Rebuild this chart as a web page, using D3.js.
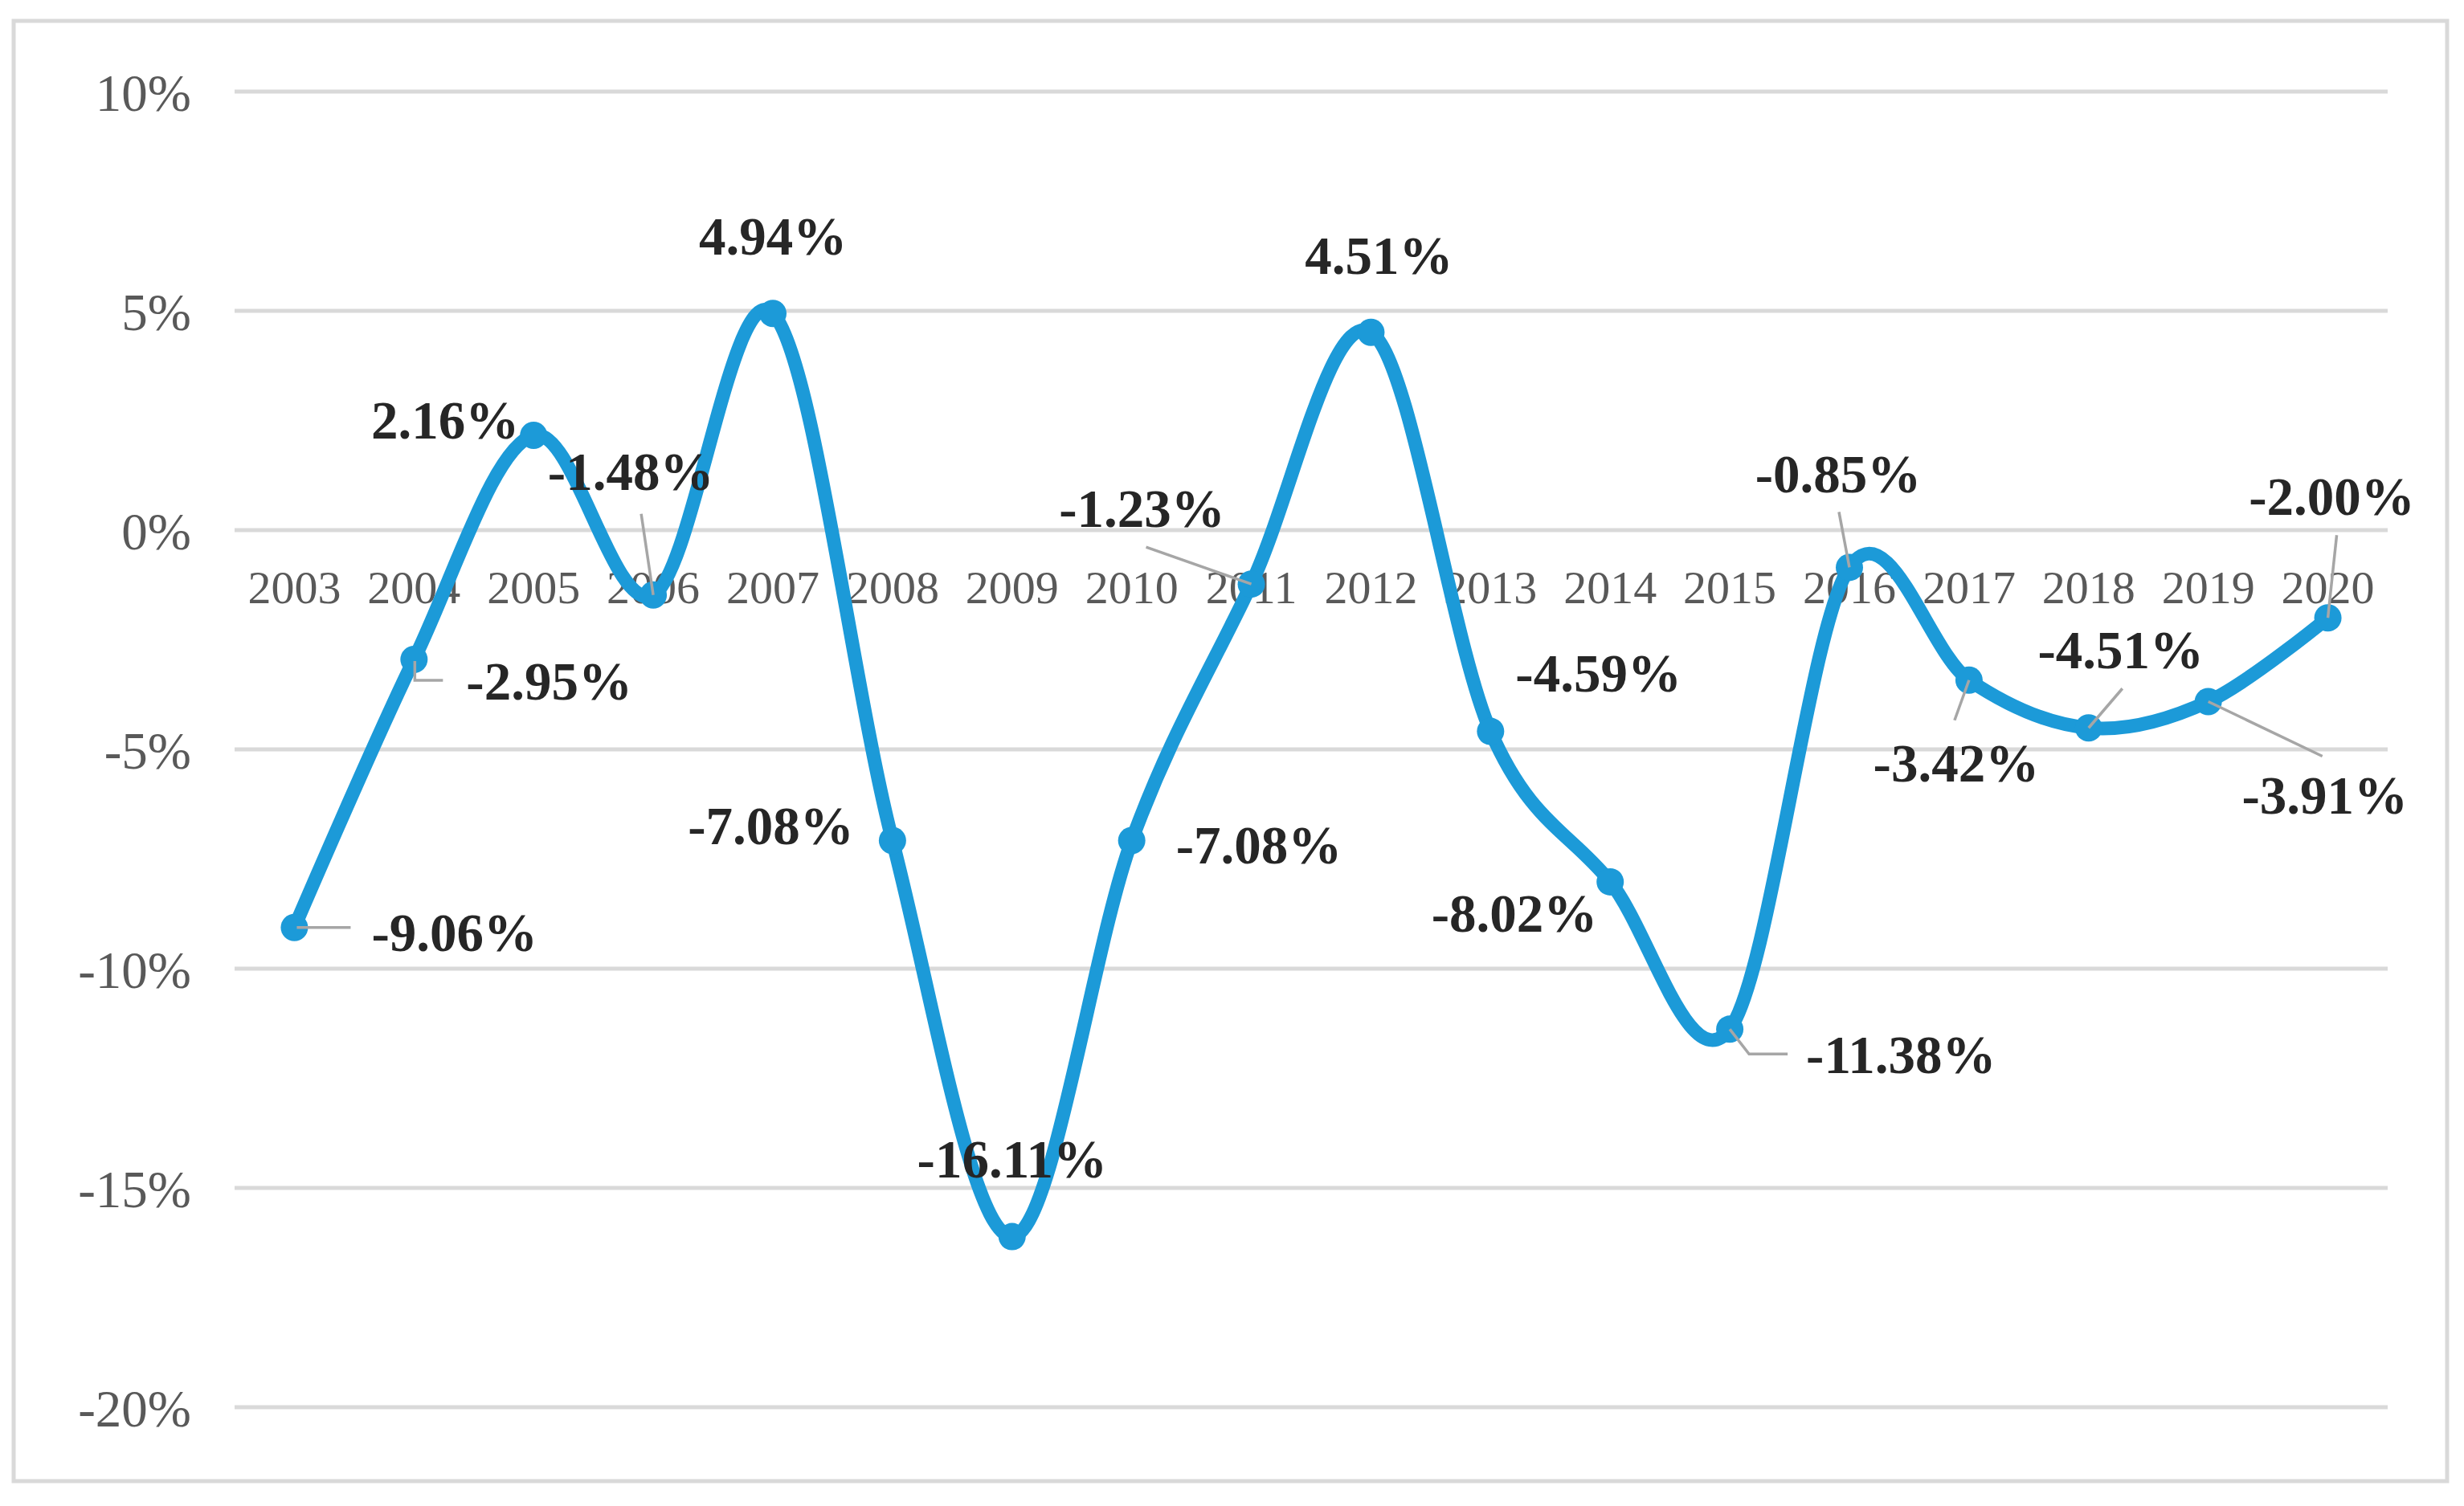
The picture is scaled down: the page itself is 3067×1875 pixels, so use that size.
<!DOCTYPE html>
<html lang="en">
<head>
<meta charset="utf-8">
<title>growth-rate-chart</title>
<script src="https://cdn.jsdelivr.net/npm/d3@7"></script>
<style>
    html, body {
        margin: 0;
        padding: 0;
        background: #ffffff;
    }
    svg {
        display: block;
    }
    .tick-label {
        font-family: "Liberation Serif", "Times New Roman", serif;
        fill: #595959;
    }
    .data-label {
        font-family: "Liberation Serif", "Times New Roman", serif;
        font-weight: bold;
        fill: #262626;
    }
</style>
</head>
<body>
<svg id="canvas" width="3067" height="1875"></svg>
<script>
    // data
    const years = ["2003", "2004", "2005", "2006", "2007", "2008", "2009", "2010", "2011",
        "2012", "2013", "2014", "2015", "2016", "2017", "2018", "2019", "2020"]
    const growth = [-9.06, -2.95, 2.16, -1.48, 4.94, -7.08, -16.11, -7.08, -1.23,
        4.51, -4.59, -8.02, -11.38, -0.85, -3.42, -4.51, -3.91, -2.00]
    const yTicks = [10, 5, 0, -5, -10, -15, -20]

    // where each data label sits relative to its point (anchor, dx, dy) and its leader line
    const labelPlacement = [
        { anchor: "start", dx: 96, dy: 29, leader: [[3, 0], [70, 0]] },
        { anchor: "start", dx: 65, dy: 50, leader: [[1, 2], [1, 26], [36, 26]] },
        { anchor: "end", dx: -18, dy: 4 },
        { anchor: "middle", dx: -28, dy: -131, leader: [[-15, -101], [0, 0]] },
        { anchor: "middle", dx: 0, dy: -73 },
        { anchor: "end", dx: -48, dy: 4 },
        { anchor: "middle", dx: 0, dy: -74 },
        { anchor: "start", dx: 55, dy: 28 },
        { anchor: "middle", dx: -136, dy: -71, leader: [[-131, -46], [0, 0]] },
        { anchor: "middle", dx: 10, dy: -73 },
        { anchor: "start", dx: 31, dy: -50 },
        { anchor: "end", dx: -16, dy: 62 },
        { anchor: "start", dx: 95, dy: 55, leader: [[0, 0], [24, 31], [72, 31]] },
        { anchor: "middle", dx: -14, dy: -93, leader: [[-13, -69], [0, 0]] },
        { anchor: "middle", dx: -16, dy: 126, leader: [[0, 0], [-18, 50]] },
        { anchor: "middle", dx: 40, dy: -74, leader: [[42, -49], [0, 0]] },
        { anchor: "middle", dx: 145, dy: 140, leader: [[0, 0], [142, 68]] },
        { anchor: "middle", dx: 5, dy: -128, leader: [[11, -103], [0, 0]] }
    ]

    const svg = d3.select("#canvas")
    const blue = "#1c9ad8"

    // outer chart border
    svg.append("rect")
        .attr("x", 17).attr("y", 26)
        .attr("width", 3029).attr("height", 1818)
        .attr("fill", "#ffffff")
        .attr("stroke", "#d9d9d9")
        .attr("stroke-width", 5)

    const x = d3.scalePoint()
        .domain(years)
        .range([292, 2972])
        .padding(0.5)

    const y = d3.scaleLinear()
        .domain([-20, 10])
        .range([1752, 114])

    // horizontal gridlines
    svg.append("g")
        .selectAll("line")
        .data(yTicks)
        .join("line")
        .attr("x1", 292)
        .attr("x2", 2972)
        .attr("y1", d => y(d))
        .attr("y2", d => y(d))
        .attr("stroke", "#d9d9d9")
        .attr("stroke-width", 5)

    // y tick labels
    svg.append("g")
        .selectAll("text")
        .data(yTicks)
        .join("text")
        .attr("class", "tick-label")
        .attr("x", 238)
        .attr("y", d => y(d) + 24)
        .attr("text-anchor", "end")
        .attr("font-size", 65)
        .text(d => d + "%")

    // category labels sit just under the 0% line
    svg.append("g")
        .selectAll("text")
        .data(years)
        .join("text")
        .attr("class", "tick-label")
        .attr("x", d => x(d))
        .attr("y", y(0) + 91)
        .attr("text-anchor", "middle")
        .attr("font-size", 58)
        .text(d => d)

    const points = years.map((d, i) => ({ year: d, value: growth[i], place: labelPlacement[i] }))

    // smoothed series line
    const line = d3.line()
        .x(d => x(d.year))
        .y(d => y(d.value))
        .curve(d3.curveCardinal.tension(0))

    svg.append("path")
        .datum(points)
        .attr("d", line)
        .attr("fill", "none")
        .attr("stroke", blue)
        .attr("stroke-width", 17)
        .attr("stroke-linejoin", "round")
        .attr("stroke-linecap", "round")

    svg.append("g")
        .selectAll("circle")
        .data(points)
        .join("circle")
        .attr("cx", d => x(d.year))
        .attr("cy", d => y(d.value))
        .attr("r", 17)
        .attr("fill", blue)

    // leader lines
    const leader = d3.line()
    svg.append("g")
        .selectAll("path")
        .data(points.filter(d => d.place.leader))
        .join("path")
        .attr("d", d => leader(d.place.leader.map(p => [x(d.year) + p[0], y(d.value) + p[1]])))
        .attr("fill", "none")
        .attr("stroke", "#a6a6a6")
        .attr("stroke-width", 3.5)

    // data labels
    svg.append("g")
        .selectAll("text")
        .data(points)
        .join("text")
        .attr("class", "data-label")
        .attr("x", d => x(d.year) + d.place.dx)
        .attr("y", d => y(d.value) + d.place.dy)
        .attr("text-anchor", d => d.place.anchor)
        .attr("font-size", 67)
        .text(d => d3.format(".2f")(d.value).replace("−", "-") + "%")
</script>
</body>
</html>
